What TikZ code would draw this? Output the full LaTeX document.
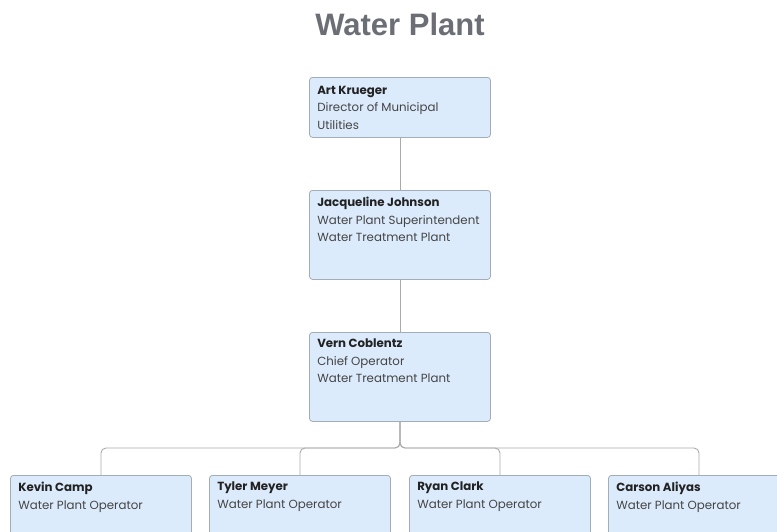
\documentclass[tikz,border=0pt]{standalone}
\usepackage{fontspec}
\setmainfont{Poppins}
\newfontfamily\titlefont{Liberation Sans}
\usetikzlibrary{calc}
\definecolor{boxfill}{HTML}{DCEBFC}
\definecolor{boxline}{HTML}{A3ADB8}
\definecolor{connline}{HTML}{AAAAAA}
\definecolor{titlegray}{HTML}{6B6F75}
\definecolor{nametext}{HTML}{222222}
\definecolor{roletext}{HTML}{444444}
\tikzset{
  card/.style={draw=boxline, fill=boxfill, line width=0.8pt, rounded corners=3pt, inner sep=0pt, minimum width=181pt},
  cardtext/.style={anchor=north west, align=left, inner sep=0pt, font=\fontsize{11.8}{17.5}\selectfont, text=roletext},
  conn/.style={draw=connline, line width=0.9pt, rounded corners=5pt},
}
\newcommand{\pname}[1]{{\bfseries\color{nametext}#1}}
\begin{document}
\begin{tikzpicture}[x=1pt,y=-1pt]
\clip (0,0) rectangle (777,531);
\useasboundingbox (0,0) rectangle (777,531);
\node[font=\titlefont\bfseries\fontsize{31}{36}\selectfont, text=titlegray] (title) at (400,24) {Water Plant};

\node[card, minimum height=60pt, anchor=north] (art) at (400,77) {};
\node[card, minimum height=89pt, anchor=north] (jac) at (400,190) {};
\node[card, minimum height=89pt, anchor=north] (ver) at (400,332) {};
\node[card, minimum height=80pt, anchor=north] (kev) at (101,475) {};
\node[card, minimum height=80pt, anchor=north] (tyl) at (300,475) {};
\node[card, minimum height=80pt, anchor=north] (rya) at (500,475) {};
\node[card, minimum height=80pt, anchor=north] (car) at (699,475) {};

\node[cardtext] (artt) at ($(art.north west)+(8,9)$) {\pname{Art Krueger}\\Director of Municipal\\Utilities};
\node[cardtext] (jact) at ($(jac.north west)+(8,7)$) {\pname{Jacqueline Johnson}\\Water Plant Superintendent\\Water Treatment Plant};
\node[cardtext] (vert) at ($(ver.north west)+(8,7)$) {\pname{Vern Coblentz}\\Chief Operator\\Water Treatment Plant};
\node[cardtext] (kevt) at ($(kev.north west)+(8,7)$) {\pname{Kevin Camp}\\Water Plant Operator};
\node[cardtext] (tylt) at ($(tyl.north west)+(8,7)$) {\pname{Tyler Meyer}\\Water Plant Operator};
\node[cardtext] (ryat) at ($(rya.north west)+(8,7)$) {\pname{Ryan Clark}\\Water Plant Operator};
\node[cardtext] (cart) at ($(car.north west)+(8,7)$) {\pname{Carson Aliyas}\\Water Plant Operator};

\draw[conn] (art.south) -- (jac.north);
\draw[conn] (jac.south) -- (ver.north);
\foreach \c in {kev,tyl,rya,car}{
  \draw[conn] (ver.south) |- ($(\c.north)+(0,-27)$) -- (\c.north);
}
\end{tikzpicture}
\end{document}
